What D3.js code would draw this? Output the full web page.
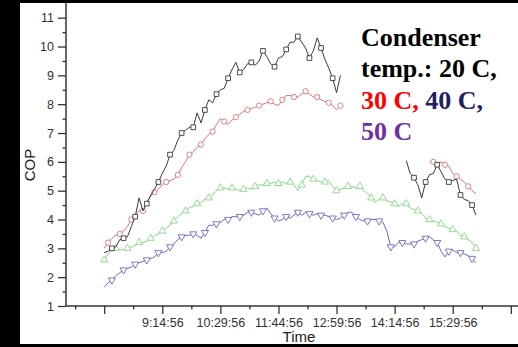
<!DOCTYPE html>
<html>
<head>
<meta charset="utf-8">
<script src="https://cdn.jsdelivr.net/npm/d3@7"></script>
<style>
html, body { margin: 0; padding: 0; background: #000; }
svg { display: block; }
</style>
</head>
<body>
<div id="chart"></div>
<script>
// readings every 5 minutes starting 7:59:56, null where the logger dropped out
const startTime = "7:59:56";
const stepMinutes = 5;

const black20 = [2.85,2.9,3.0,3.05,3.3,3.35,3.4,3.75,4.1,4.75,
  4.3,4.55,4.85,5.05,5.3,5.6,5.85,6.25,6.4,6.75,
  7.0,7.1,7.2,7.2,7.7,7.35,7.8,8.15,8.05,8.35,
  8.5,8.55,8.9,9.2,9.45,9.1,9.2,9.4,9.45,9.35,
  9.5,9.85,9.65,9.4,9.3,9.6,9.65,9.9,10.15,10.15,
  10.35,10.15,9.95,9.6,9.85,10.3,9.95,9.55,9.25,8.9,
  8.4,9.0,
  null,null,null,null,null,null,null,null,null,null,null,null,null,null,null,null,
  6.05,5.6,5.45,5.2,4.75,5.3,5.55,5.6,5.9,5.65,
  5.4,5.3,5.35,5.4,4.85,4.7,4.65,4.5,4.15];

const red30 = [3.0,3.2,3.35,3.45,3.5,3.6,3.75,4.0,4.15,4.3,
  4.3,4.6,4.8,4.95,5.05,5.2,5.3,5.35,5.4,5.55,
  5.8,6.0,6.25,6.35,6.5,6.6,6.8,6.95,7.05,7.3,
  7.5,7.4,7.3,7.45,7.55,7.65,7.75,7.8,7.85,7.9,
  7.95,8.0,8.05,8.1,8.0,7.95,8.15,8.3,8.3,8.25,
  8.25,8.35,8.45,8.35,8.25,8.25,8.15,8.1,8.05,7.95,
  7.8,7.95,
  null,null,null,null,null,null,null,null,null,null,null,
  null,null,null,null,null,null,null,null,null,null,null,
  6.0,6.0,5.95,6.0,5.9,5.85,5.6,5.5,5.4,5.3,
  5.15,5.0,4.9];

const green40 = [2.6,2.8,2.95,3.0,2.95,2.95,3.0,3.05,3.1,3.2,
  3.2,3.25,3.35,3.45,3.5,3.6,3.7,3.8,3.95,4.1,
  4.2,4.3,4.4,4.45,4.55,4.6,4.7,4.75,4.85,5.0,
  5.1,5.1,5.05,5.1,5.05,5.0,5.05,5.1,5.05,5.15,
  5.2,5.2,5.25,5.25,5.3,5.25,5.3,5.25,5.3,5.2,
  5.0,5.2,5.5,5.5,5.4,5.35,5.3,5.3,5.35,5.15,
  5.0,5.05,5.1,5.15,5.15,5.1,5.15,5.0,4.9,4.75,
  4.6,4.7,4.75,4.65,4.6,4.55,4.45,4.55,4.55,4.4,
  4.35,4.3,4.2,4.05,4.0,3.95,3.9,3.85,3.75,3.7,
  3.65,3.6,3.45,3.4,3.3,3.2,3.0];

const blue50 = [1.65,1.8,1.9,2.05,2.15,2.25,2.3,2.35,2.45,2.5,
  2.55,2.6,2.65,2.7,2.85,2.85,2.9,3.05,3.15,3.3,
  3.4,3.45,3.45,3.5,3.45,3.35,3.55,3.8,3.8,3.85,
  3.9,4.0,4.0,4.1,4.1,4.1,4.15,4.25,4.25,4.2,
  4.15,4.3,4.4,4.2,4.05,3.95,4.0,4.1,4.05,4.15,
  4.25,4.15,4.25,4.2,4.15,4.2,4.15,4.15,4.1,4.05,
  4.0,4.05,4.15,4.25,4.25,4.1,4.0,3.95,3.95,4.0,
  4.0,3.95,3.9,3.6,3.05,3.05,3.2,3.2,3.15,3.15,
  3.15,3.25,3.3,3.35,3.4,3.3,3.2,2.9,2.7,2.9,
  2.95,2.85,2.85,2.8,2.75,2.65,2.5];

const yTicks = [1,2,3,4,5,6,7,8,9,10,11];
const xTickLabels = ["9:14:56","10:29:56","11:44:56","12:59:56","14:14:56","15:29:56"];
const xTickBlank = ["7:59:56","16:44:56"];

const W = 518, H = 347;
const parse = d3.timeParse("%H:%M:%S");
const t0 = parse(startTime);

const svg = d3.select("#chart").append("svg")
  .attr("width", W)
  .attr("height", H);

svg.append("rect")
  .attr("x", 20).attr("y", 3)
  .attr("width", W - 20).attr("height", 341)
  .attr("fill", "#fff");

var x = d3.scaleTime()
  .domain([parse("7:59:56"), parse("16:44:56")])
  .range([104.2, 510.8]);
x.domain([x.invert(66), x.invert(W)]).range([66, W]);

var y = d3.scaleLinear()
  .domain([1, 11])
  .range([306, 17.7]);

var majorX = xTickBlank.concat(xTickLabels).map(parse).sort(d3.ascending);
var minorX = [d3.timeSecond.offset(majorX[0], -2250)]
  .concat(majorX.map(function(t) { return d3.timeSecond.offset(t, 2250); }))
  .filter(function(t) { return x(t) < W; });

// x axis
var gx = svg.append("g").attr("transform", "translate(0,306)");
gx.call(d3.axisBottom(x).tickValues(majorX).tickSize(8).tickPadding(4)
  .tickFormat(function(d) {
    var s = d3.timeFormat("%-H:%M:%S")(d);
    return xTickLabels.indexOf(s) >= 0 ? s : "";
  }));
gx.append("g").call(d3.axisBottom(x).tickValues(minorX).tickSize(3.5).tickFormat(""));
gx.selectAll(".domain").remove();
gx.selectAll("line").attr("stroke", "#333").attr("stroke-width", 1.3);
gx.selectAll("text")
  .attr("fill", "#333")
  .style("font", "12.5px 'Liberation Sans', Arial, sans-serif");
svg.append("line")
  .attr("x1", 66).attr("x2", W).attr("y1", 306).attr("y2", 306)
  .attr("stroke", "#333").attr("stroke-width", 1.5);

// y axis
var gy = svg.append("g").attr("transform", "translate(66,0)");
gy.call(d3.axisLeft(y).tickValues(yTicks).tickSize(8).tickPadding(4));
gy.append("g").call(d3.axisLeft(y)
  .tickValues(yTicks.slice(0, -1).map(function(v) { return v + 0.5; }))
  .tickSize(3.5).tickFormat(""));
gy.selectAll(".domain").remove();
gy.selectAll("line").attr("stroke", "#333").attr("stroke-width", 1.3);
gy.selectAll("text")
  .attr("fill", "#333")
  .style("font", "12.5px 'Liberation Sans', Arial, sans-serif");
svg.append("line")
  .attr("x1", 66).attr("x2", 66).attr("y1", 306).attr("y2", 3)
  .attr("stroke", "#333").attr("stroke-width", 1.5);

svg.append("text")
  .attr("transform", "translate(35,165) rotate(-90)")
  .attr("text-anchor", "middle")
  .attr("fill", "#222")
  .style("font", "15px 'Liberation Sans', Arial, sans-serif")
  .text("COP");

svg.append("text")
  .attr("x", 299).attr("y", 342)
  .attr("text-anchor", "middle")
  .attr("fill", "#222")
  .style("font", "15px 'Liberation Sans', Arial, sans-serif")
  .text("Time");

// series
var series = [
  { values: blue50, color: "#6b6bc4", symbol: d3.symbolTriangle, rotate: 180, offset: 1 },
  { values: green40, color: "#86d886", symbol: d3.symbolTriangle, rotate: 0, offset: 0 },
  { values: red30, color: "#de7474", symbol: d3.symbolCircle, rotate: 0, offset: 2 },
  { values: black20, color: "#3a3a3a", symbol: d3.symbolSquare, rotate: 0, offset: 1 }
];

var line = d3.line()
  .defined(function(d) { return d.v != null; })
  .x(function(d) { return x(d.t); })
  .y(function(d) { return y(d.v); });

series.forEach(function(s) {
  var pts = s.values.map(function(v, i) {
    return { t: d3.timeMinute.offset(t0, i * stepMinutes), v: v, i: i };
  });
  svg.append("path")
    .datum(pts)
    .attr("fill", "none")
    .attr("stroke", s.color)
    .attr("stroke-width", 1)
    .attr("d", line);
  svg.append("g")
    .selectAll("path")
    .data(pts.filter(function(d) { return d.v != null && (d.i + s.offset) % 3 == 0; }))
    .join("path")
    .attr("transform", function(d) {
      return "translate(" + x(d.t) + "," + y(d.v) + ") rotate(" + s.rotate + ")";
    })
    .attr("d", d3.symbol().type(s.symbol).size(22))
    .attr("fill", "#fff")
    .attr("stroke", s.color)
    .attr("stroke-width", 0.9);
});

// caption in the plot
var cap = svg.append("text")
  .style("font", "bold 26px 'Liberation Serif', 'Times New Roman', serif");
cap.append("tspan").attr("x", 361).attr("y", 46).attr("fill", "#000").text("Condenser");
cap.append("tspan").attr("x", 361).attr("y", 77).attr("fill", "#000").text("temp.: 20 C,");
cap.append("tspan").attr("x", 361).attr("y", 109).attr("fill", "#ff0000").text("30 C,");
cap.append("tspan").attr("fill", "#1f1f66").text(" 40 C,");
cap.append("tspan").attr("x", 361).attr("y", 140).attr("fill", "#7030a0").text("50 C");
</script>
</body>
</html>
